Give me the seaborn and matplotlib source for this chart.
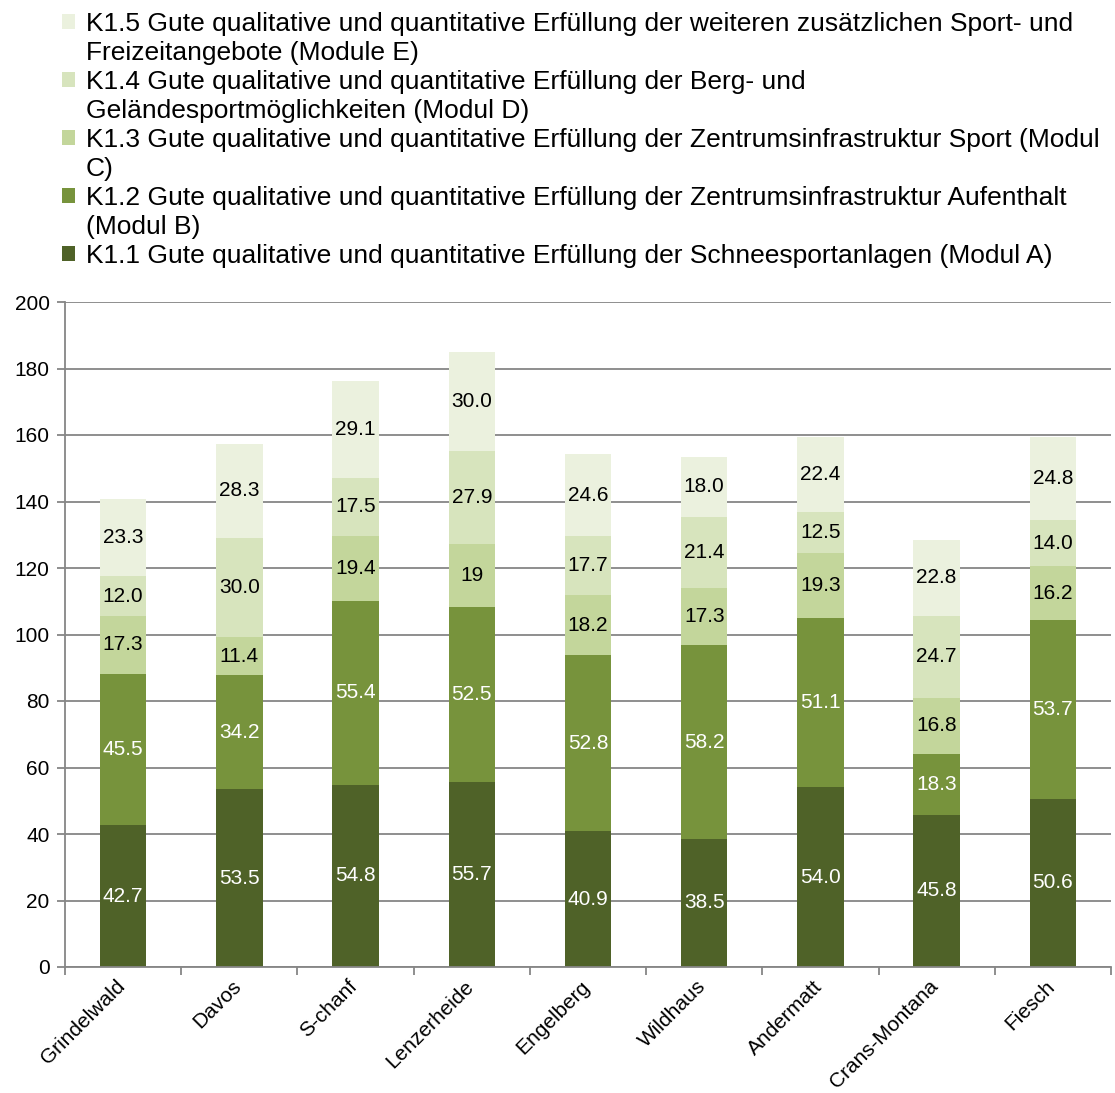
import matplotlib.pyplot as plt
import matplotlib.transforms as mtransforms
import seaborn as sns
import numpy as np
from matplotlib.patches import Patch

places = ["Grindelwald", "Davos", "S-chanf", "Lenzerheide", "Engelberg",
          "Wildhaus", "Andermatt", "Crans-Montana", "Fiesch"]

# values per module, bottom (K1.1) to top (K1.5)
k11 = [42.7, 53.5, 54.8, 55.7, 40.9, 38.5, 54.0, 45.8, 50.6]
k12 = [45.5, 34.2, 55.4, 52.5, 52.8, 58.2, 51.1, 18.3, 53.7]
k13 = [17.3, 11.4, 19.4, 19, 18.2, 17.3, 19.3, 16.8, 16.2]
k14 = [12.0, 30.0, 17.5, 27.9, 17.7, 21.4, 12.5, 24.7, 14.0]
k15 = [23.3, 28.3, 29.1, 30.0, 24.6, 18.0, 22.4, 22.8, 24.8]

series_names = [
    "K1.1 Gute qualitative und quantitative Erfüllung der Schneesportanlagen (Modul A)",
    "K1.2 Gute qualitative und quantitative Erfüllung der Zentrumsinfrastruktur Aufenthalt\n(Modul B)",
    "K1.3 Gute qualitative und quantitative Erfüllung der Zentrumsinfrastruktur Sport (Modul\nC)",
    "K1.4 Gute qualitative und quantitative Erfüllung der Berg- und\nGeländesportmöglichkeiten (Modul D)",
    "K1.5 Gute qualitative und quantitative Erfüllung der weiteren zusätzlichen Sport- und\nFreizeitangebote (Module E)",
]
colors = ["#4F6228", "#77933C", "#C3D69B", "#D7E4BD", "#EBF1DE"]
label_colors = ["white", "white", "black", "black", "black"]

series = [k11, k12, k13, k14, k15]

sns.set_style("white")
plt.rcParams["font.family"] = ["Liberation Sans", "DejaVu Sans"]
plt.rcParams["text.color"] = "black"
plt.rcParams["xtick.labelcolor"] = "black"
plt.rcParams["ytick.labelcolor"] = "black"

fig = plt.figure(figsize=(11.15, 10.93), dpi=100)
ax = fig.add_axes([65 / 1115, 1 - 967 / 1093, (1111 - 65) / 1115, (967 - 302) / 1093])

data = np.array(series, dtype=float)
cum = np.cumsum(data, axis=0)

# draw totals first, then each lower cumulative level over it
for k in range(len(series) - 1, -1, -1):
    sns.barplot(x=places, y=cum[k], color=colors[k], saturation=1,
                width=0.4, ax=ax, linewidth=0)

for k, vals in enumerate(series):
    for i, v in enumerate(vals):
        bottom = cum[k][i] - v
        txt = str(v) if isinstance(v, int) else f"{v:.1f}"
        ax.text(i, bottom + v / 2, txt, ha="center", va="center",
                fontsize=15, color=label_colors[k])

ax.set_ylim(0, 200)
ax.set_xlim(-0.5, len(places) - 0.5)
ax.set_yticks(range(0, 201, 20))
ax.set_axisbelow(True)
ax.yaxis.grid(True, color="#868686", linewidth=1.3)
ax.xaxis.grid(False)

for s in ["top", "right"]:
    ax.spines[s].set_visible(False)
for s in ["left", "bottom"]:
    ax.spines[s].set_color("#868686")
    ax.spines[s].set_linewidth(1.3)

ax.tick_params(axis="y", which="major", left=True, length=6, width=1.3,
               color="#868686", labelsize=15, labelcolor="black", pad=5)
ax.tick_params(axis="x", which="major", length=0, labelsize=15, pad=7,
               labelcolor="black")
ax.set_xticks(np.arange(-0.5, len(places), 1.0), minor=True)
ax.tick_params(axis="x", which="minor", bottom=True, length=6, width=1.3,
               color="#868686")
ax.set_xticks(range(len(places)))
ax.set_xticklabels(places, rotation=45, ha="right", rotation_mode="anchor")
shift = mtransforms.ScaledTranslation(-0.08, 0, fig.dpi_scale_trans)
for lab in ax.get_xticklabels():
    lab.set_transform(lab.get_transform() + shift)
ax.set_xlabel("")
ax.set_ylabel("")

# legend, top entry first; continuation lines get an empty handle
handles = []
labels = []
for k in range(len(series) - 1, -1, -1):
    lines = series_names[k].split("\n")
    handles.append(Patch(facecolor=colors[k], edgecolor="none"))
    labels.append(lines[0])
    for extra in lines[1:]:
        handles.append(Patch(facecolor="none", edgecolor="none"))
        labels.append(extra)

fig.legend(handles, labels, loc="upper left",
           bbox_to_anchor=(62 / 1115, 1 - 12 / 1093),
           frameon=False, fontsize=19, borderpad=0, borderaxespad=0,
           handlelength=0.5, handleheight=0.5, handletextpad=0.4,
           labelspacing=0.19, labelcolor="black")

fig.savefig("out.png", dpi=100)
